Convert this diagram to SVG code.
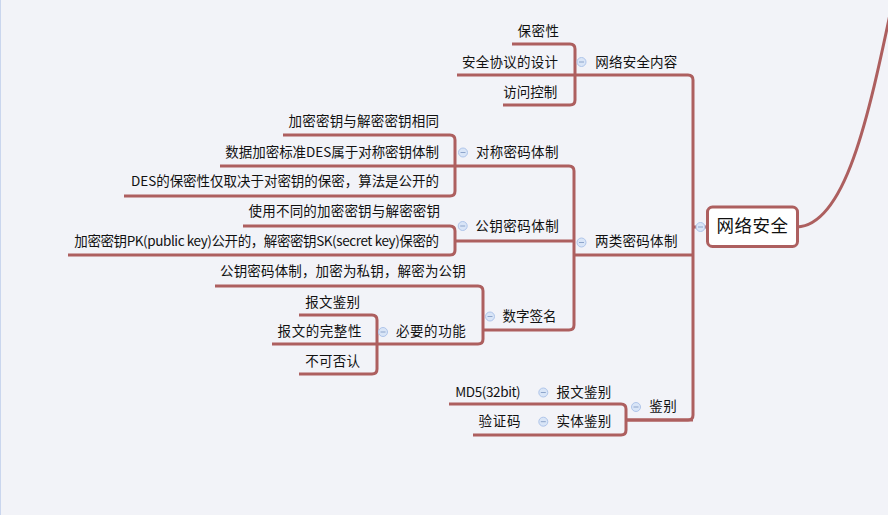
<svg xmlns="http://www.w3.org/2000/svg" width="888" height="515" viewBox="0 0 888 515">
<style>
.bg{fill:#F2F3F8}
.ln{fill:none;stroke:#AD5F5F;stroke-width:3;stroke-linejoin:round}
.t{font-family:"Noto Sans CJK SC","Microsoft YaHei","Liberation Sans",sans-serif;font-size:13.5px;fill:#111}
.rt{font-family:"Noto Sans CJK SC","Microsoft YaHei","Liberation Sans",sans-serif;font-size:17.5px;fill:#111}
.cb{fill:#D9E5F7;stroke:#AFC5EA;stroke-width:1}
.cm{stroke:#8EA5CB;stroke-width:1}
</style>
<defs>
<g id="col"><circle class="cb" cx="0" cy="0" r="4.5"/><line class="cm" x1="-2.5" y1="0" x2="2.5" y2="0"/></g>
</defs>
<rect class="bg" x="0" y="0" width="888" height="515"/>
<line x1="0.5" y1="0" x2="0.5" y2="515" stroke="#CAD6EE" stroke-width="1"/>

<g id="connectors">
<path class="ln" d="M797,227 C845,225 868,120 893,0"/>
<path class="ln" d="M693,227 H708"/>
<path class="ln" d="M575,75 H688 Q693,75 693,80 V415 Q693,420 688,420 H626"/>
<path class="ln" d="M574,255 H693"/>
<path class="ln" d="M512,44 H570 Q575,44 575,49 V100 Q575,105 570,105 H503"/>
<path class="ln" d="M457,75 H575"/>
<path class="ln" d="M455,166 H569 Q574,166 574,171 V325 Q574,330 569,330 H483"/>
<path class="ln" d="M455,241 H574"/>
<path class="ln" d="M283,135 H450 Q455,135 455,140 V191 Q455,196 450,196 H124"/>
<path class="ln" d="M220,166 H455"/>
<path class="ln" d="M243,226 H450 Q455,226 455,231 V250 Q455,255 450,255 H68"/>
<path class="ln" d="M215,286 H478 Q483,286 483,291 V339 Q483,344 478,344 H377"/>
<path class="ln" d="M299,315 H372 Q377,315 377,320 V369 Q377,374 372,374 H299"/>
<path class="ln" d="M272,344 H377"/>
<path class="ln" d="M449,404 H621 Q626,404 626,409 V430 Q626,435 621,435 H473"/>
<path class="ln" d="M626,420 H693"/>
</g>

<g id="root">
<rect x="707.5" y="207" width="90" height="39.5" rx="5" fill="#fff" stroke="#AD5F5F" stroke-width="3"/>
<text class="rt" x="716.5" y="231.5" textLength="71.6" lengthAdjust="spacing">网络安全</text>
<use href="#col" x="700.5" y="227"/>
</g>

<g id="n-wlaqnr">
<text class="t" x="595.3" y="67" textLength="82" lengthAdjust="spacing">网络安全内容</text>
<use href="#col" x="581.5" y="62"/>
</g>
<g id="n-bmx"><text class="t" x="517.6" y="36" textLength="41.4" lengthAdjust="spacing">保密性</text></g>
<g id="n-aqxy"><text class="t" x="462" y="67" textLength="96" lengthAdjust="spacing">安全协议的设计</text></g>
<g id="n-fwkz"><text class="t" x="503.3" y="97" textLength="54" lengthAdjust="spacing">访问控制</text></g>

<g id="n-lmm">
<text class="t" x="595" y="245.5" textLength="82.4" lengthAdjust="spacing">两类密码体制</text>
<use href="#col" x="581.5" y="242.5"/>
</g>
<g id="n-dc">
<text class="t" x="476" y="157" textLength="82.4" lengthAdjust="spacing">对称密码体制</text>
<use href="#col" x="463" y="152.5"/>
</g>
<g id="n-dc1"><text class="t" x="288.6" y="126" textLength="150.4" lengthAdjust="spacing">加密密钥与解密密钥相同</text></g>
<g id="n-dc2"><text class="t" x="225.3" y="157" textLength="213.7" lengthAdjust="spacing">数据加密标准DES属于对称密钥体制</text></g>
<g id="n-dc3"><text class="t" x="131" y="186" textLength="308" lengthAdjust="spacing">DES的保密性仅取决于对密钥的保密，算法是公开的</text></g>

<g id="n-gy">
<text class="t" x="475.3" y="230.5" textLength="83.4" lengthAdjust="spacing">公钥密码体制</text>
<use href="#col" x="462.7" y="226"/>
</g>
<g id="n-gy1"><text class="t" x="248.6" y="216" textLength="191.4" lengthAdjust="spacing">使用不同的加密密钥与解密密钥</text></g>
<g id="n-gy2"><text class="t" x="74.3" y="246" textLength="364.7" lengthAdjust="spacing">加密密钥PK(public key)公开的，解密密钥SK(secret key)保密的</text></g>

<g id="n-szqm">
<text class="t" x="502.6" y="321" textLength="54" lengthAdjust="spacing">数字签名</text>
<use href="#col" x="490" y="316.5"/>
</g>
<g id="n-szqm1"><text class="t" x="220" y="276" textLength="245.7" lengthAdjust="spacing">公钥密码体制，加密为私钥，解密为公钥</text></g>
<g id="n-bygn">
<text class="t" x="396" y="336" textLength="69.7" lengthAdjust="spacing">必要的功能</text>
<use href="#col" x="383" y="332"/>
</g>
<g id="n-bwjb1"><text class="t" x="305.3" y="306.5" textLength="54.7" lengthAdjust="spacing">报文鉴别</text></g>
<g id="n-bwwzx"><text class="t" x="277.6" y="336" textLength="83.8" lengthAdjust="spacing">报文的完整性</text></g>
<g id="n-bkfr"><text class="t" x="305.3" y="365.5" textLength="54.7" lengthAdjust="spacing">不可否认</text></g>

<g id="n-jb">
<text class="t" x="649.3" y="411" textLength="27.4" lengthAdjust="spacing">鉴别</text>
<use href="#col" x="636" y="407"/>
</g>
<g id="n-bwjb2">
<text class="t" x="556.6" y="397" textLength="54.7" lengthAdjust="spacing">报文鉴别</text>
<use href="#col" x="543.3" y="392.5"/>
</g>
<g id="n-md5"><text class="t" x="455.3" y="397" textLength="65.4" lengthAdjust="spacing">MD5(32bit)</text></g>
<g id="n-stjb">
<text class="t" x="556.6" y="426" textLength="54.7" lengthAdjust="spacing">实体鉴别</text>
<use href="#col" x="543.3" y="421.7"/>
</g>
<g id="n-yzm"><text class="t" x="478.6" y="426" textLength="42" lengthAdjust="spacing">验证码</text></g>
</svg>
